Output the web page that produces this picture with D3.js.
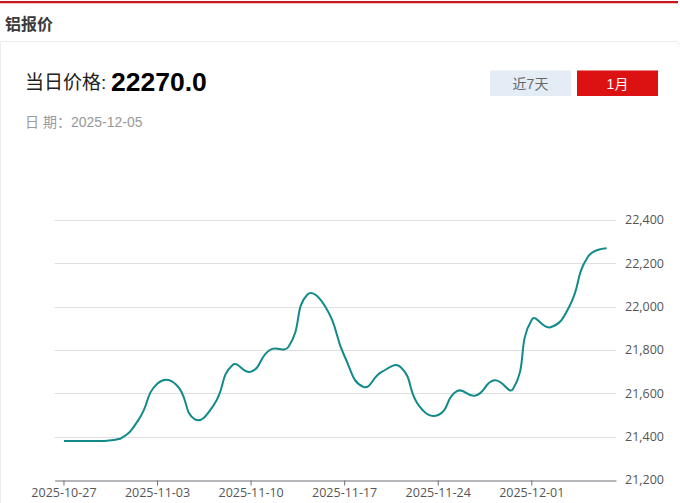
<!DOCTYPE html>
<html><head><meta charset="utf-8">
<script src="https://cdn.jsdelivr.net/npm/d3@7"></script>
<style>
html,body{margin:0;padding:0;background:#fff;}
svg{display:block;}
</style></head>
<body>
<div id="chart"></div>
<script>
const title = "铝报价";
const priceLabel = "当日价格:";
const priceValue = "22270.0";
const dateLabel = "日 期：2025-12-05";
const buttons = ["近7天", "1月"];

const dates = [
  "2025-10-27","2025-10-28","2025-10-29","2025-10-30","2025-10-31",
  "2025-11-03","2025-11-04","2025-11-05","2025-11-06","2025-11-07",
  "2025-11-10","2025-11-11","2025-11-12","2025-11-13","2025-11-14",
  "2025-11-17","2025-11-18","2025-11-19","2025-11-20","2025-11-21",
  "2025-11-24","2025-11-25","2025-11-26","2025-11-27","2025-11-28",
  "2025-12-01","2025-12-02","2025-12-03","2025-12-04","2025-12-05"
];
const prices = [
  21380, 21380, 21380, 21390, 21480,
  21645, 21640, 21480, 21545, 21730,
  21700, 21800, 21815, 22055, 21995,
  21770, 21630, 21700, 21720, 21540,
  21500, 21610, 21590, 21660, 21620,
  21940, 21905, 22000, 22230, 22270
];
const xTickLabels = ["2025-10-27","2025-11-03","2025-11-10","2025-11-17","2025-11-24","2025-12-01"];
const yTicks = [21200, 21400, 21600, 21800, 22000, 22200, 22400];

const W = 680, H = 503;
const mixFont = "'Liberation Sans', Arial, 'Noto Sans CJK SC', sans-serif";
const svg = d3.select("#chart").append("svg").attr("width", W).attr("height", H);

// top red rule
svg.append("rect").attr("x", 0).attr("y", 1).attr("width", W - 2).attr("height", 2).attr("fill", "#c8161d");
svg.append("rect").attr("x", 0).attr("y", 3).attr("width", W - 2).attr("height", 1).attr("fill", "#f3c6c8");

// title
svg.append("text").attr("x", 5).attr("y", 30)
  .attr("font-family", "'Noto Sans CJK SC', sans-serif").attr("font-size", 16).attr("font-weight", "bold")
  .attr("fill", "#3a3a3a").text(title);

// card border
svg.append("path").attr("d", `M0.5,${H} V41.5 H${W - 4} Q${W - 0.5},41.5 ${W - 0.5},45`)
  .attr("fill", "none").attr("stroke", "#ececec").attr("stroke-width", 1);

// price
svg.append("text").attr("x", 25).attr("y", 89)
  .attr("font-family", mixFont).attr("font-size", 19)
  .attr("fill", "#222").text(priceLabel);
svg.append("text").attr("x", 111).attr("y", 91)
  .attr("font-family", "'Liberation Sans', Arial, sans-serif").attr("font-size", 26.5).attr("font-weight", "bold")
  .attr("fill", "#000").text(priceValue);

// date
svg.append("text").attr("x", 25).attr("y", 127)
  .attr("font-family", mixFont).attr("font-size", 14)
  .attr("fill", "#999").text(dateLabel);

// buttons
const btnX = [490, 577], btnFill = ["#e4ecf6", "#dc1212"], btnText = ["#666", "#fff"];
buttons.forEach((b, i) => {
  svg.append("rect").attr("x", btnX[i]).attr("y", 70.5).attr("width", 81).attr("height", 25.5).attr("fill", btnFill[i]);
  svg.append("text").attr("x", btnX[i] + 40.5).attr("y", 88.5).attr("text-anchor", "middle")
    .attr("font-family", mixFont).attr("font-size", 14)
    .attr("fill", btnText[i]).text(b);
});

// scales
const x = d3.scaleBand().domain(dates).range([54.6, 616]).paddingInner(0).paddingOuter(0);
const y = d3.scaleLinear().domain([21200, 22400]).range([480, 220]);
const cx = d => x(d) + x.bandwidth() / 2;

// grid
svg.append("g").selectAll("line").data(yTicks.filter(t => t !== 21200)).join("line")
  .attr("x1", 54.6).attr("x2", 616).attr("y1", d => Math.round(y(d)) + 0.5).attr("y2", d => Math.round(y(d)) + 0.5)
  .attr("stroke", "#e0e0e0").attr("stroke-width", 1.2);

// y labels (right)
svg.append("g").selectAll("text").data(yTicks).join("text")
  .attr("x", 625).attr("y", d => y(d)).attr("dy", "0.35em")
  .attr("font-family", "'Open Sans', sans-serif").attr("font-size", 12.5).attr("fill", "#555")
  .text(d => d3.format(",")(d));

// x axis
const xAxis = d3.axisBottom(x).tickValues(xTickLabels).tickSize(5).tickSizeOuter(0).tickPadding(3);
const gx = svg.append("g").attr("transform", "translate(0,480.5)").call(xAxis);
gx.select(".domain").attr("stroke", "#6e7079").attr("stroke-width", 1.2);
gx.selectAll(".tick line").attr("stroke", "#6e7079");
gx.selectAll(".tick text").attr("font-family", "'Open Sans', sans-serif").attr("font-size", 12.5).attr("fill", "#555");

// ECharts-like smooth path
const pts = dates.map((d, i) => [cx(d), y(prices[i])]);
function smoothPath(p, smooth) {
  const xs = p.map(q => q[0]), ys = p.map(q => q[1]);
  const mn = [d3.min(xs), d3.min(ys)], mx = [d3.max(xs), d3.max(ys)];
  const clamp = (c) => [Math.max(mn[0], Math.min(mx[0], c[0])), Math.max(mn[1], Math.min(mx[1], c[1]))];
  const path = d3.path();
  path.moveTo(p[0][0], p[0][1]);
  let cp0 = [p[0][0], p[0][1]];
  for (let i = 1; i < p.length; i++) {
    const pt = p[i], prev = p[i - 1], next = p[i + 1];
    let nextCp0, r = 0.5, v = [0, 0];
    if (!next) {
      nextCp0 = [pt[0], pt[1]];
    } else {
      v = [next[0] - prev[0], next[1] - prev[1]];
      const lp = Math.hypot(pt[0] - prev[0], pt[1] - prev[1]);
      const ln = Math.hypot(pt[0] - next[0], pt[1] - next[1]);
      r = ln / (ln + lp);
      nextCp0 = [pt[0] - v[0] * smooth * (1 - r), pt[1] - v[1] * smooth * (1 - r)];
    }
    const a = clamp(cp0), b = clamp(nextCp0);
    path.bezierCurveTo(a[0], a[1], b[0], b[1], pt[0], pt[1]);
    cp0 = [pt[0] + v[0] * smooth * r, pt[1] + v[1] * smooth * r];
  }
  return path.toString();
}
svg.append("path").attr("d", smoothPath(pts, 0.5))
  .attr("fill", "none").attr("stroke", "#128a8a").attr("stroke-width", 2);
</script>
</body></html>
